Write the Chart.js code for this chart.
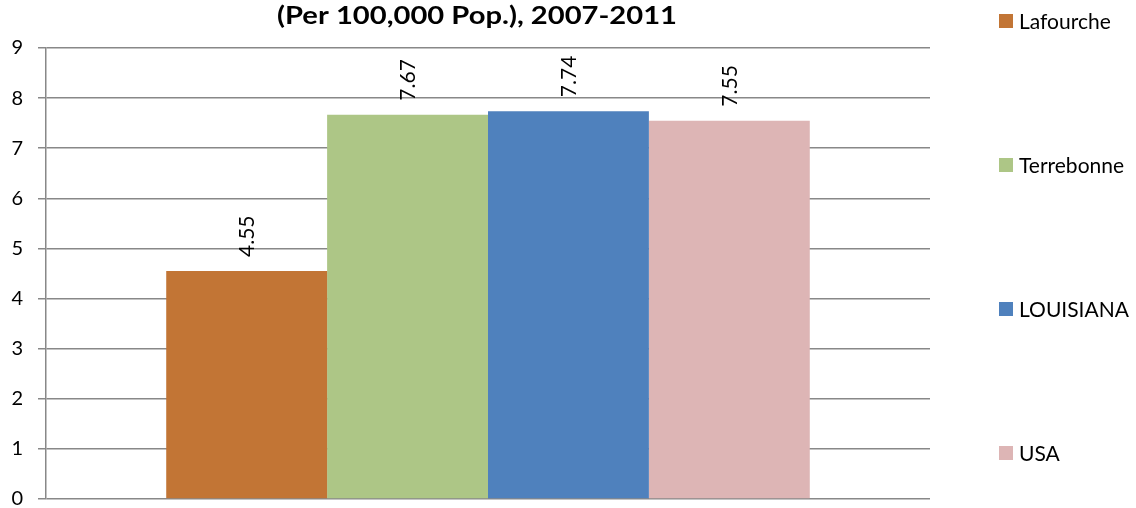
<!DOCTYPE html>
<html>
<head>
<meta charset="utf-8">
<script src="https://cdn.jsdelivr.net/npm/chart.js@4.4.1/dist/chart.umd.min.js"></script>
<style>
  html, body { margin: 0; padding: 0; background: #fff; }
  #wrap { width: 1136px; height: 508px; }
</style>
</head>
<body>
<div id="wrap"><canvas id="chart" width="1136" height="508"></canvas></div>
<script>
const titleText = "(Per 100,000 Pop.), 2007-2011";
const categories = [""];
const seriesNames = ["Lafourche", "Terrebonne", "LOUISIANA", "USA"];
const seriesValues = [4.55, 7.67, 7.74, 7.55];
const seriesColors = ["#c27535", "#adc686", "#4f81bd", "#ddb5b5"];
const yTicks = [0, 1, 2, 3, 4, 5, 6, 7, 8, 9];

const FONT = "Lato, 'Open Sans', sans-serif";
const GRID = "#888888";

// title drawn by hand so it can sit off-centre like the original
const titlePlugin = {
    id: "titleText",
    afterDraw(chart) {
        const ctx = chart.ctx;
        ctx.save();
        ctx.font = "bold 25px " + FONT;
        ctx.fillStyle = "#000";
        ctx.textAlign = "center";
        ctx.textBaseline = "alphabetic";
        // fit to the original's width
        const w = ctx.measureText(titleText).width;
        ctx.translate(477, 24);
        ctx.scale(400 / w, 1);
        ctx.fillText(titleText, 0, 0);
        ctx.restore();
    }
};

// rotated value labels above each bar
const valueLabels = {
    id: "valueLabels",
    afterDatasetsDraw(chart) {
        const ctx = chart.ctx;
        ctx.save();
        ctx.font = "21px " + FONT;
        ctx.fillStyle = "#000";
        ctx.textAlign = "left";
        ctx.textBaseline = "middle";
        chart.data.datasets.forEach((ds, i) => {
            chart.getDatasetMeta(i).data.forEach((bar, j) => {
                ctx.save();
                ctx.translate(bar.x + 1, bar.y - 14);
                ctx.rotate(-Math.PI / 2);
                ctx.fillText(ds.data[j].toFixed(2), 0, 0);
                ctx.restore();
            });
        });
        ctx.restore();
    }
};

// legend spread down the right side
const sideLegend = {
    id: "sideLegend",
    afterDraw(chart) {
        const ctx = chart.ctx;
        ctx.save();
        ctx.font = "21px " + FONT;
        ctx.textAlign = "left";
        ctx.textBaseline = "middle";
        chart.data.datasets.forEach((ds, i) => {
            const cy = 21 + i * 144;
            ctx.fillStyle = ds.backgroundColor;
            ctx.fillRect(999, cy - 7, 14, 14);
            ctx.fillStyle = "#000";
            ctx.fillText(ds.label, 1019, cy + 1);
        });
        ctx.restore();
    }
};

new Chart(document.getElementById("chart"), {
    type: "bar",
    data: {
        labels: categories,
        datasets: seriesNames.map((name, i) => ({
            label: name,
            data: [seriesValues[i]],
            backgroundColor: seriesColors[i],
            borderWidth: 0,
            barPercentage: 1,
            categoryPercentage: 0.728
        }))
    },
    options: {
        responsive: false,
        animation: false,
        layout: { padding: { top: 48, right: 206, bottom: 9, left: 0 } },
        plugins: {
            legend: { display: false },
            title: { display: false },
            tooltip: { enabled: false }
        },
        scales: {
            x: {
                display: false
            },
            y: {
                min: 0,
                max: 9,
                afterFit: s => { s.width = 46; s.paddingTop = 0; s.paddingBottom = 0; },
                afterBuildTicks: s => { s.ticks = yTicks.map(v => ({ value: v })); },
                grid: { color: GRID, lineWidth: 1.5, tickLength: 8 },
                border: { color: GRID, width: 1.5 },
                ticks: { color: "#000", padding: 15, font: { family: FONT, size: 20 } }
            }
        }
    },
    plugins: [titlePlugin, valueLabels, sideLegend]
});
</script>
</body>
</html>
